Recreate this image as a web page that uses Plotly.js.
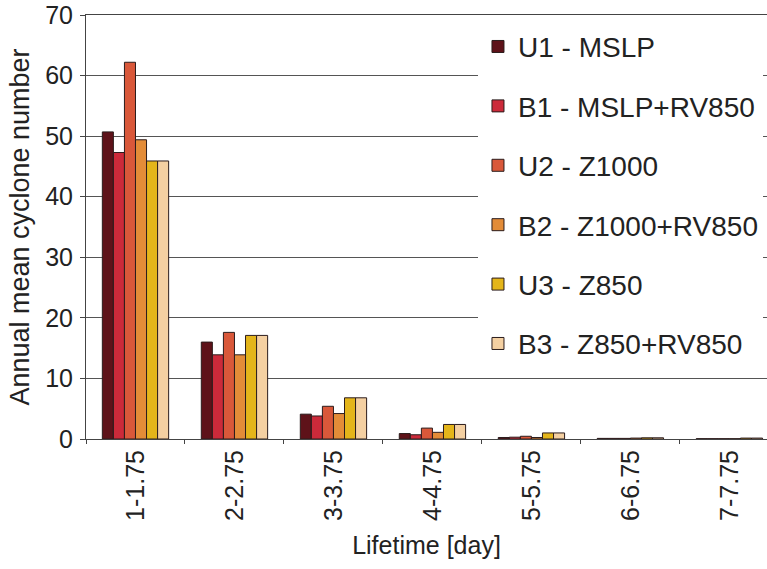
<!DOCTYPE html>
<html>
<head>
<meta charset="utf-8">
<script src="https://cdn.plot.ly/plotly-3.0.1.min.js"></script>
<style>
  html, body { margin: 0; padding: 0; background: #fff; }
  #chart { width: 767px; height: 569px; }
</style>
</head>
<body>
<div id="chart"></div>
<script>
// Lifetime classes (x categories)
const lifetimes = ["1-1.75", "2-2.75", "3-3.75", "4-4.75", "5-5.75", "6-6.75", "7-7.75"];

// Annual mean cyclone numbers per tracking scheme
const u1Mslp      = [50.7, 16.0, 4.1, 0.9, 0.25, 0.1, 0.05];
const b1MslpRv    = [47.3, 13.9, 3.8, 0.7, 0.3, 0.1, 0.05];
const u2Z1000     = [62.2, 17.6, 5.4, 1.8, 0.45, 0.1, 0.05];
const b2Z1000Rv   = [49.4, 13.9, 4.2, 1.1, 0.25, 0.15, 0.05];
const u3Z850      = [45.9, 17.1, 6.8, 2.4, 1.0, 0.2, 0.15];
const b3Z850Rv    = [45.9, 17.1, 6.8, 2.4, 1.0, 0.2, 0.15];

const seriesNames = [
  "U1 - MSLP",
  "B1 - MSLP+RV850",
  "U2 - Z1000",
  "B2 - Z1000+RV850",
  "U3 - Z850",
  "B3 - Z850+RV850"
];
const seriesValues = [u1Mslp, b1MslpRv, u2Z1000, b2Z1000Rv, u3Z850, b3Z850Rv];
const seriesColors = ["#5e1219", "#cc2a3a", "#d9583a", "#e38c38", "#e4b51a", "#f4d0a2"];

const FONT = "Liberation Sans, Arial, sans-serif";

const traces = seriesNames.map((name, i) => ({
  type: "bar",
  name: name,
  x: lifetimes,
  y: seriesValues[i],
  legendgroup: "g" + i,
  marker: { color: seriesColors[i], line: { color: "#2b1c1c", width: 1 } },
  hoverinfo: "x+y+name"
}));

const layout = {
  width: 767,
  height: 569,
  margin: { l: 86, r: 0, t: 15, b: 130 },
  paper_bgcolor: "#ffffff",
  plot_bgcolor: "#ffffff",
  barmode: "group",
  bargap: 0.33,
  bargroupgap: 0,
  font: { family: FONT, color: "#222", size: 24 },
  xaxis: {
    type: "category",
    range: [-0.5, 6.38],
    tickangle: -90,
    tickson: "boundaries",
    ticks: "outside",
    ticklen: 4,
    tickcolor: "#444",
    showline: true,
    mirror: true,
    linecolor: "#444",
    linewidth: 1,
    showgrid: false,
    tickfont: { family: FONT, size: 25, color: "#222" },
    title: { text: "Lifetime [day]", font: { family: FONT, size: 25, color: "#222" }, standoff: 16 }
  },
  yaxis: {
    range: [0, 70],
    dtick: 10,
    ticks: "outside",
    ticklen: 5,
    tickcolor: "#444",
    showline: true,
    linecolor: "#444",
    linewidth: 1,
    showgrid: true,
    gridcolor: "#555",
    gridwidth: 1,
    zeroline: false,
    ticklabeloverflow: "allow",
    ticklabelstandoff: 2,
    tickfont: { family: FONT, size: 25, color: "#222" },
    title: { text: "Annual mean cyclone number", font: { family: FONT, size: 27, color: "#222" }, standoff: 7 }
  },
  legend: {
    x: 0.5756,
    xanchor: "left",
    y: 0.984,
    yanchor: "top",
    bgcolor: "#ffffff",
    borderwidth: 0,
    traceorder: "grouped",
    tracegroupgap: 20,
    font: { family: FONT, size: 28, color: "#222" }
  },
  showlegend: true
};

Plotly.newPlot("chart", traces, layout, { staticPlot: true, displayModeBar: false });
</script>
</body>
</html>
